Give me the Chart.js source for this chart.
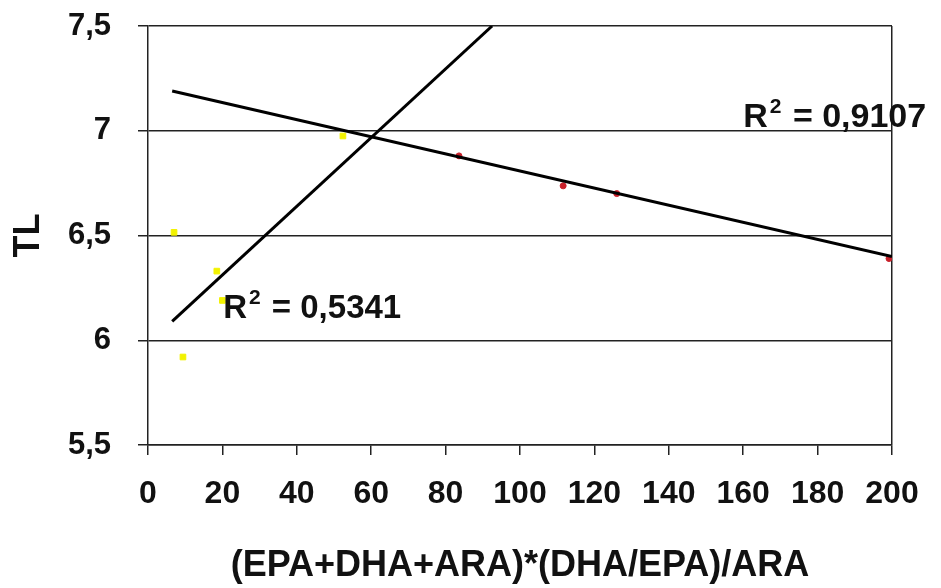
<!DOCTYPE html>
<html>
<head>
<meta charset="utf-8">
<script src="https://cdn.jsdelivr.net/npm/chart.js@4"></script>
<style>
  body { margin: 0; background: #fff; }
</style>
</head>
<body>
<canvas id="tlChart" width="941" height="588"></canvas>
<script>
// yellow group
const yellowX = [7, 9.4, 18.5, 20, 52.4];
const yellowY = [6.515, 5.92, 6.33, 6.19, 6.975];
// red group
const redX = [83.6, 111.6, 126, 199.2];
const redY = [6.88, 6.737, 6.70, 6.39];
// trend lines (end points)
const trendYellowX = [6.5, 92.5];
const trendYellowY = [6.09, 7.5];
const trendRedX = [6.5, 200];
const trendRedY = [7.19, 6.40];
const r2Labels = ["0,5341", "0,9107"];

const pts = (xs, ys) => xs.map((x, i) => ({ x: x, y: ys[i] }));
const FONT = "'Liberation Sans', Arial, sans-serif";

const r2Plugin = {
  id: "r2",
  afterDatasetsDraw(chart, args, opts) {
    const ctx = chart.ctx;
    const xs = chart.scales.x, ys = chart.scales.y;
    opts.spots.forEach((s, i) => {
      let px = xs.getPixelForValue(s.x);
      const py = ys.getPixelForValue(s.y);
      ctx.save();
      ctx.fillStyle = "#111";
      ctx.textBaseline = "alphabetic";
      ctx.font = "bold " + s.size + "px " + FONT;
      ctx.fillText("R", px, py);
      px += ctx.measureText("R").width + 2;
      ctx.font = "bold 21px " + FONT;
      ctx.fillText("2", px, py - 14);
      px += ctx.measureText("2").width + 2;
      ctx.font = "bold " + s.size + "px " + FONT;
      ctx.fillText(" = " + r2Labels[i], px, py);
      ctx.restore();
    });
  }
};

const data = {
  datasets: [
    {
      label: "trend yellow",
      data: pts(trendYellowX, trendYellowY),
      showLine: true,
      borderColor: "#000",
      borderWidth: 3,
      pointRadius: 0,
      order: 0,
    },
    {
      label: "trend red",
      data: pts(trendRedX, trendRedY),
      showLine: true,
      borderColor: "#000",
      borderWidth: 3,
      pointRadius: 0,
      order: 0,
    },
    {
      label: "yellow",
      data: pts(yellowX, yellowY),
      backgroundColor: "#f2f200",
      borderColor: "#f2f200",
      pointStyle: "rect",
      pointRadius: 4,
      order: 1,
    },
    {
      label: "red",
      data: pts(redX, redY),
      backgroundColor: "#c8202a",
      borderColor: "#c8202a",
      pointRadius: 3,
      order: 1,
    },
  ],
};

const config = {
  type: "scatter",
  data: data,
  options: {
    responsive: false,
    animation: false,
    layout: { padding: { top: 26, right: 49, left: 0, bottom: 0 } },
    plugins: {
      legend: { display: false },
      tooltip: { enabled: false },
      r2: {
        spots: [
          { x: 20.2, y: 6.105, size: 33 },
          { x: 160, y: 7.02, size: 34 },
        ],
      },
    },
    scales: {
      x: {
        type: "linear",
        min: 0,
        max: 200,
        ticks: {
          stepSize: 20,
          color: "#111",
          padding: 20,
          font: { family: FONT, size: 32, weight: "bold" },
        },
        grid: {
          color: (c) => (c.tick && c.tick.value === 200 ? "#222" : "rgba(0,0,0,0)"),
          tickColor: "#222",
          tickLength: 10,
          lineWidth: 1.5,
        },
        border: { display: true, color: "#222", width: 1.5 },
        title: {
          display: true,
          text: "(EPA+DHA+ARA)*(DHA/EPA)/ARA",
          color: "#111",
          font: { family: FONT, size: 36, weight: "bold" },
          padding: { top: 0, bottom: 0 },
        },
        afterFit: (s) => { s.height = 143; },
      },
      y: {
        min: 5.5,
        max: 7.5,
        ticks: {
          stepSize: 0.5,
          color: "#111",
          padding: 27,
          font: { family: FONT, size: 31, weight: "bold" },
          callback: (v) => String(v).replace(".", ","),
        },
        grid: {
          color: "#222",
          tickLength: 10,
          lineWidth: 1.5,
        },
        border: { display: true, color: "#222", width: 1.5 },
        title: {
          display: true,
          text: "TL",
          color: "#111",
          font: { family: FONT, size: 36, weight: "bold" },
          padding: { top: 7, bottom: 0 },
        },
        afterFit: (s) => {
          s.width = 148;
          s.paddingTop = 0;
          s.paddingBottom = 0;
        },
      },
    },
  },
  plugins: [r2Plugin],
};

var tl = document.getElementById("tlChart").getContext("2d");
var chart = new Chart(tl, config);
</script>
</body>
</html>
